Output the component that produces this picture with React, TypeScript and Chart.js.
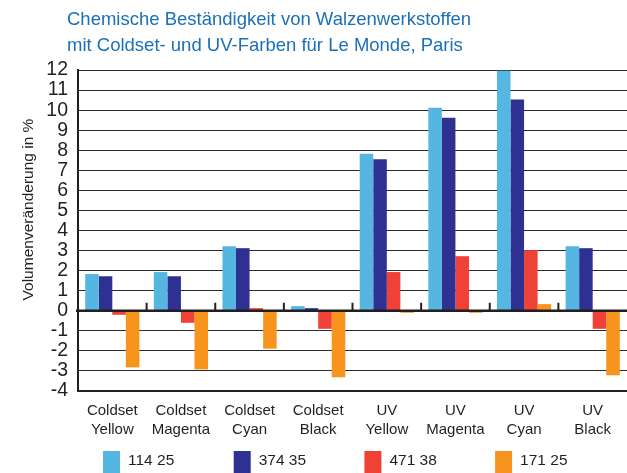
import React, { useEffect, useRef } from "react";
import { Chart, registerables } from "chart.js";
Chart.register(...registerables);

const categories = [
  ["Coldset", "Yellow"],
  ["Coldset", "Magenta"],
  ["Coldset", "Cyan"],
  ["Coldset", "Black"],
  ["UV", "Yellow"],
  ["UV", "Magenta"],
  ["UV", "Cyan"],
  ["UV", "Black"],
];
const seriesNames = ["114 25", "374 35", "471 38", "171 25"];
const values11425 = [1.83, 1.93, 3.22, 0.23, 7.83, 10.12, 11.97, 3.22];
const values37435 = [1.72, 1.72, 3.12, 0.13, 7.55, 9.62, 10.53, 3.12];
const values47138 = [-0.2, -0.6, 0.13, -0.9, 1.93, 2.72, 3.02, -0.9];
const values17125 = [-2.82, -2.92, -1.89, -3.31, -0.1, -0.1, 0.33, -3.21];
const seriesColors = ["#55b7e1", "#2e3192", "#ef4136", "#f7941d"];
const yMin = -4;
const yMax = 12;
const titleLines = [
  "Chemische Beständigkeit von Walzenwerkstoffen",
  "mit Coldset- und UV-Farben für Le Monde, Paris",
];
const yAxisTitle = "Volumenveränderung in %";

const FONT = "'Liberation Sans', Arial, Helvetica, sans-serif";
const TEXT = "#231f20";

const extras = {
  id: "extras",
  afterLayout(chart: any) {
    const t = chart.titleBlock;
    if (t) {
      t.left = 67;
    }
  },
  afterDatasetsDraw(chart: any) {
    const { ctx, chartArea, scales } = chart;
    const x = scales.x;
    const y = scales.y;
    const y0 = y.getPixelForValue(0);
    ctx.save();
    ctx.strokeStyle = TEXT;
    ctx.lineWidth = 2.5;
    ctx.beginPath();
    ctx.moveTo(chartArea.left - 2, y0);
    ctx.lineTo(chartArea.right, y0);
    ctx.stroke();
    ctx.lineWidth = 2;
    for (let i = 1; i < categories.length; i++) {
      const bx = (x.getPixelForValue(i - 1) + x.getPixelForValue(i)) / 2;
      ctx.beginPath();
      ctx.moveTo(bx, y0);
      ctx.lineTo(bx, y0 - 8);
      ctx.stroke();
    }
    ctx.restore();
  },
  afterDraw(chart: any) {
    const { ctx, chartArea } = chart;
    ctx.save();
    // y axis title
    ctx.fillStyle = TEXT;
    ctx.font = `15.5px ${FONT}`;
    ctx.textAlign = "center";
    ctx.textBaseline = "middle";
    ctx.translate(29, (chartArea.top + chartArea.bottom) / 2 - 21);
    ctx.rotate(-Math.PI / 2);
    ctx.fillText(yAxisTitle, 0, 0);
    ctx.restore();
    // legend
    ctx.save();
    ctx.font = `15.5px ${FONT}`;
    ctx.textAlign = "left";
    ctx.textBaseline = "middle";
    const start = 103;
    const step = 130.7;
    chart.data.datasets.forEach((ds: any, i: number) => {
      const lx = start + i * step;
      ctx.fillStyle = ds.backgroundColor;
      ctx.fillRect(lx, 451, 17, 24);
      ctx.fillStyle = TEXT;
      ctx.fillText(ds.label, lx + 25, 461);
    });
    ctx.restore();
  },
};

export default function App() {
  const ref = useRef<HTMLCanvasElement | null>(null);
  useEffect(() => {
    if (!ref.current) return;
    const seriesValues = [values11425, values37435, values47138, values17125];
    const chart = new Chart(ref.current, {
      type: "bar",
      data: {
        labels: categories,
        datasets: seriesNames.map((name, i) => ({
          label: name,
          data: seriesValues[i],
          backgroundColor: seriesColors[i],
          borderWidth: 0,
          categoryPercentage: 0.79,
          barPercentage: 1.0,
        })),
      },
      options: {
        animation: false,
        responsive: true,
        maintainAspectRatio: false,
        layout: { padding: { top: 0, left: 0, right: 0, bottom: 32 } },
        plugins: {
          legend: { display: false },
          tooltip: { enabled: false },
          title: {
            display: true,
            text: titleLines,
            align: "start",
            color: "#1b70b8",
            font: { family: FONT, size: 18.5, lineHeight: 1.38, weight: "normal" },
            padding: { top: 7.6, bottom: 11.4 },
          },
        },
        scales: {
          x: {
            grid: { display: false, drawTicks: false },
            border: { display: true, color: TEXT, width: 2 },
            ticks: {
              color: TEXT,
              font: { family: FONT, size: 15, lineHeight: 1.27 },
              padding: 10,
              maxRotation: 0,
              autoSkip: false,
            },
            afterFit(scale: any) {
              scale.height = 50;
            },
          },
          y: {
            min: yMin,
            max: yMax,
            grid: { color: "#2a2a2a", lineWidth: 1, drawTicks: false },
            border: { display: true, color: TEXT, width: 2 },
            ticks: {
              stepSize: 1,
              autoSkip: false,
              color: TEXT,
              font: { family: FONT, size: 19.5 },
              padding: 10,
            },
            afterFit(scale: any) {
              scale.width = 78;
            },
          },
        },
      },
      plugins: [extras],
    });
    return () => chart.destroy();
  }, []);
  return (
    <div style={{ position: "fixed", left: 0, top: 0, width: 627, height: 473, background: "#fff" }}>
      <canvas ref={ref} />
    </div>
  );
}
